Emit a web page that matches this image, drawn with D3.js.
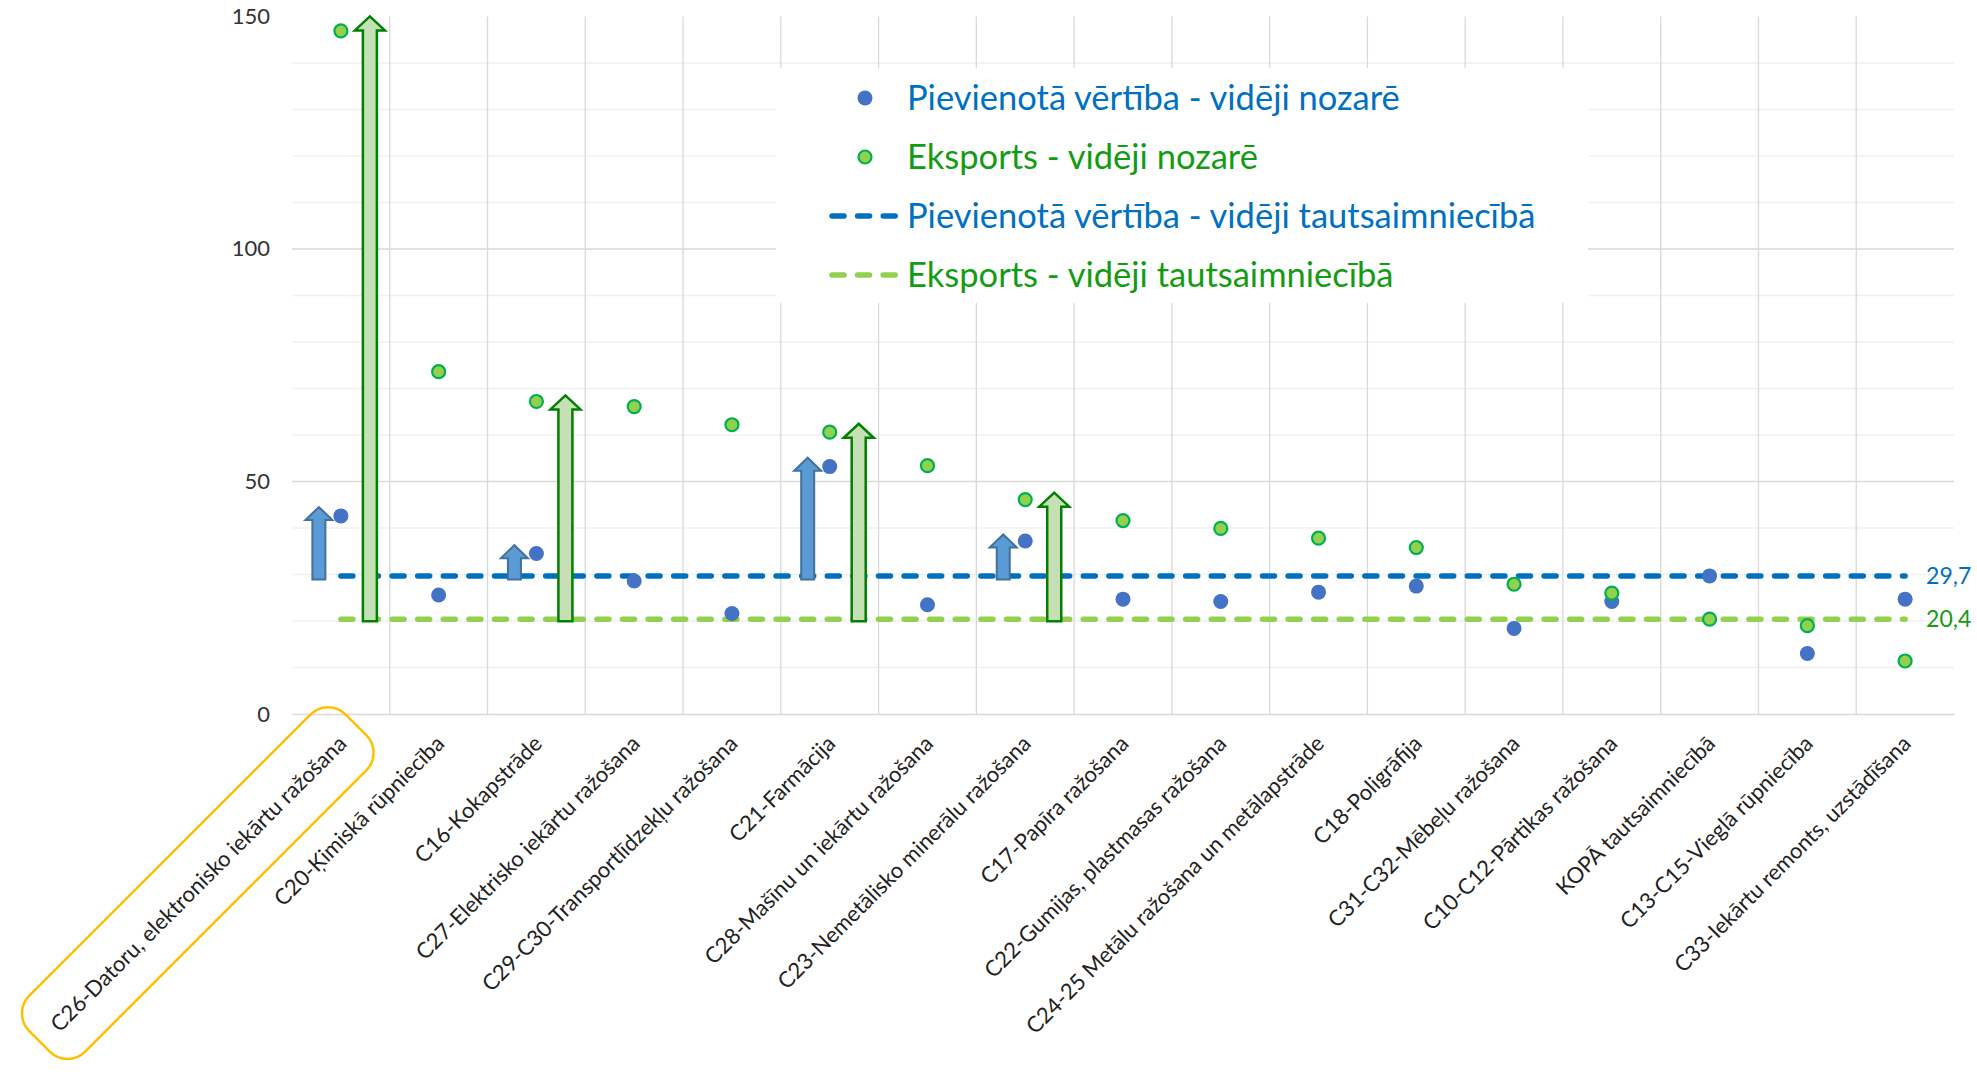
<!DOCTYPE html>
<html>
<head>
<meta charset="utf-8">
<script src="https://cdn.jsdelivr.net/npm/d3@7"></script>
<style>
    body { margin: 0; background: #fff; }
    text { font-family: Lato, "Open Sans", sans-serif; }
</style>
</head>
<body>
<div class="container"></div>
<script>
// Nozares, sakārtotas pēc eksporta
const categories = [
    "C26-Datoru, elektronisko iekārtu ražošana",
    "C20-Ķimiskā rūpniecība",
    "C16-Kokapstrāde",
    "C27-Elektrisko iekārtu ražošana",
    "C29-C30-Transportlīdzekļu ražošana",
    "C21-Farmācija",
    "C28-Mašīnu un iekārtu ražošana",
    "C23-Nemetālisko minerālu ražošana",
    "C17-Papīra ražošana",
    "C22-Gumijas, plastmasas ražošana",
    "C24-25 Metālu ražošana un metālapstrāde",
    "C18-Poligrāfija",
    "C31-C32-Mēbeļu ražošana",
    "C10-C12-Pārtikas ražošana",
    "KOPĀ tautsaimniecībā",
    "C13-C15-Vieglā rūpniecība",
    "C33-Iekārtu remonts, uzstādīšana"
];

const addedValue = [42.6, 25.6, 34.5, 28.6, 21.6, 53.2, 23.5, 37.2, 24.7, 24.2, 26.2, 27.5, 18.4, 24.2, 29.7, 13.0, 24.7];
const exportValue = [146.9, 73.6, 67.2, 66.1, 62.2, 60.6, 53.4, 46.1, 41.6, 39.9, 37.8, 35.8, 27.9, 26.0, 20.4, 19.0, 11.4];

const avgAddedValue = 29.7;
const avgExport = 20.4;

const yTicks = [0, 50, 100, 150];

// bultas (anotācijas) - nozare un bultas gala vērtība
const addedArrowCats = [categories[0], categories[2], categories[5], categories[7]];
const addedArrowTips = [44.5, 36.3, 55.1, 38.6];
const exportArrowCats = [categories[0], categories[2], categories[5], categories[7]];
const exportArrowTips = [150, 68.5, 62.4, 47.6];

const highlighted = categories[0];

const legendLabels = [
    "Pievienotā vērtība - vidēji nozarē",
    "Eksports - vidēji nozarē",
    "Pievienotā vērtība - vidēji tautsaimniecībā",
    "Eksports - vidēji tautsaimniecībā"
];

const w = 1977, h = 1074;
const plotLeft = 292, plotRight = 1954, plotTop = 16.4, plotBottom = 714;

const blue = "#0070C0", dotBlue = "#4472C4", lineGreen = "#92D050", textGreen = "#139c13";

const svg = d3.select('.container')
    .append('svg')
    .attr('width', w)
    .attr('height', h);

const x = d3.scaleBand().domain(categories).range([plotLeft, plotRight]);
const y = d3.scaleLinear().domain([0, 150]).range([plotBottom, plotTop]);
const cx = c => x(c) + x.bandwidth() / 2;

// horizontālās režģa līnijas
svg.append('g')
    .selectAll('line')
    .data(d3.range(10, 150, 10))
    .enter()
    .append('line')
    .attr('x1', plotLeft).attr('x2', plotRight)
    .attr('y1', d => y(d)).attr('y2', d => y(d))
    .attr('stroke', d => d % 50 === 0 ? '#d9d9d9' : '#f0f0f0')
    .attr('stroke-width', 1.5);

// vertikālās režģa līnijas
svg.append('g')
    .selectAll('line')
    .data(categories.slice(1))
    .enter()
    .append('line')
    .attr('x1', d => x(d)).attr('x2', d => x(d))
    .attr('y1', y(150)).attr('y2', y(0))
    .attr('stroke', '#d9d9d9')
    .attr('stroke-width', 1.3);

// y ass
svg.append('g')
    .attr('transform', `translate(${plotLeft},0)`)
    .call(d3.axisLeft(y).tickValues(yTicks).tickSize(0).tickPadding(22))
    .call(g => g.select('.domain').remove())
    .call(g => g.selectAll('text')
        .attr('fill', '#333')
        .style('font-size', '22px')
        .style('font-family', 'Lato'));

// x ass
const xAxis = svg.append('g')
    .attr('transform', `translate(0,${plotBottom})`)
    .call(d3.axisBottom(x).tickSize(0).tickSizeOuter(0));

xAxis.select('.domain').attr('stroke', '#d9d9d9').attr('stroke-width', 1.5);
xAxis.selectAll('.tick text')
    .attr('x', 0).attr('y', 0).attr('dy', null)
    .attr('transform', 'translate(7,31) rotate(-45)')
    .attr('text-anchor', 'end')
    .attr('fill', '#222')
    .style('font-size', '22px')
    .style('font-family', 'Lato');

// izcelta nozare
xAxis.selectAll('.tick')
    .filter(d => d === highlighted)
    .each(function () {
        const t = d3.select(this).select('text');
        const bb = t.node().getBBox();
        d3.select(this).insert('rect', 'text')
            .attr('transform', 'translate(7,31) rotate(-45)')
            .attr('x', bb.x - 20).attr('y', bb.y - 26)
            .attr('width', bb.width + 40).attr('height', bb.height + 52)
            .attr('rx', 25)
            .attr('fill', 'none')
            .attr('stroke', '#FFC000')
            .attr('stroke-width', 2.5);
    });

// vidējās līnijas
const x0 = cx(categories[0]), x1 = cx(categories[categories.length - 1]);
svg.append('line')
    .attr('x1', x0).attr('x2', x1)
    .attr('y1', y(avgAddedValue)).attr('y2', y(avgAddedValue))
    .attr('stroke', blue).attr('stroke-width', 5.5)
    .attr('stroke-dasharray', '12,13.6').attr('stroke-linecap', 'round');
svg.append('line')
    .attr('x1', x0).attr('x2', x1)
    .attr('y1', y(avgExport)).attr('y2', y(avgExport))
    .attr('stroke', lineGreen).attr('stroke-width', 5.5)
    .attr('stroke-dasharray', '12,13.6').attr('stroke-linecap', 'round');

svg.append('text')
    .attr('x', x1 + 21).attr('y', y(avgAddedValue))
    .attr('dy', '0.35em')
    .attr('fill', blue)
    .style('font-size', '23px')
    .text(d3.format('.1f')(avgAddedValue).replace('.', ','));
svg.append('text')
    .attr('x', x1 + 21).attr('y', y(avgExport))
    .attr('dy', '0.35em')
    .attr('fill', textGreen)
    .style('font-size', '23px')
    .text(d3.format('.1f')(avgExport).replace('.', ','));

// punkti
svg.append('g')
    .selectAll('circle')
    .data(categories)
    .enter()
    .append('circle')
    .attr('cx', d => cx(d))
    .attr('cy', (d, i) => y(addedValue[i]))
    .attr('r', 7.5)
    .attr('fill', dotBlue);

svg.append('g')
    .selectAll('circle')
    .data(categories)
    .enter()
    .append('circle')
    .attr('cx', d => cx(d))
    .attr('cy', (d, i) => y(exportValue[i]))
    .attr('r', 6.5)
    .attr('fill', lineGreen)
    .attr('stroke', '#00B050')
    .attr('stroke-width', 2.2);

// bultas
function arrowPath(xc, yBase, yTip, s, hw, hh) {
    return `M${xc - s},${yBase}L${xc - s},${yTip + hh}L${xc - hw},${yTip + hh}L${xc},${yTip}` +
        `L${xc + hw},${yTip + hh}L${xc + s},${yTip + hh}L${xc + s},${yBase}Z`;
}

svg.append('g')
    .selectAll('path')
    .data(addedArrowCats)
    .enter()
    .append('path')
    .attr('d', (c, i) => arrowPath(cx(c) - 22, y(avgAddedValue) + 3.5, y(addedArrowTips[i]), 6.5, 13.5, 13))
    .attr('fill', '#5B9BD5')
    .attr('stroke', '#41719C')
    .attr('stroke-width', 2);

svg.append('g')
    .selectAll('path')
    .data(exportArrowCats)
    .enter()
    .append('path')
    .attr('d', (c, i) => arrowPath(cx(c) + 29, y(avgExport) + 2, y(exportArrowTips[i]), 7, 15, 14))
    .attr('fill', '#C5E0B4')
    .attr('stroke', '#008000')
    .attr('stroke-width', 2.5);

// leģenda
const legend = svg.append('g').attr('id', 'legend');
legend.append('rect')
    .attr('x', 776).attr('y', 68)
    .attr('width', 812).attr('height', 235)
    .attr('fill', '#fff');

const rowY = d3.scalePoint().domain(legendLabels).range([98, 275]);
const legendColors = [blue, textGreen, blue, textGreen];

legend.selectAll('text')
    .data(legendLabels)
    .enter()
    .append('text')
    .attr('x', 907)
    .attr('y', d => rowY(d))
    .attr('dy', '0.35em')
    .attr('fill', (d, i) => legendColors[i])
    .style('font-size', '34.5px')
    .text(d => d);

legend.append('circle')
    .attr('cx', 865).attr('cy', rowY(legendLabels[0])).attr('r', 7.5)
    .attr('fill', dotBlue);
legend.append('circle')
    .attr('cx', 865).attr('cy', rowY(legendLabels[1])).attr('r', 6.5)
    .attr('fill', lineGreen).attr('stroke', '#00B050').attr('stroke-width', 2.2);
legend.append('line')
    .attr('x1', 832).attr('x2', 896)
    .attr('y1', rowY(legendLabels[2])).attr('y2', rowY(legendLabels[2]))
    .attr('stroke', blue).attr('stroke-width', 5.5)
    .attr('stroke-dasharray', '12,13.6').attr('stroke-linecap', 'round');
legend.append('line')
    .attr('x1', 832).attr('x2', 896)
    .attr('y1', rowY(legendLabels[3])).attr('y2', rowY(legendLabels[3]))
    .attr('stroke', lineGreen).attr('stroke-width', 5.5)
    .attr('stroke-dasharray', '12,13.6').attr('stroke-linecap', 'round');
</script>
</body>
</html>
